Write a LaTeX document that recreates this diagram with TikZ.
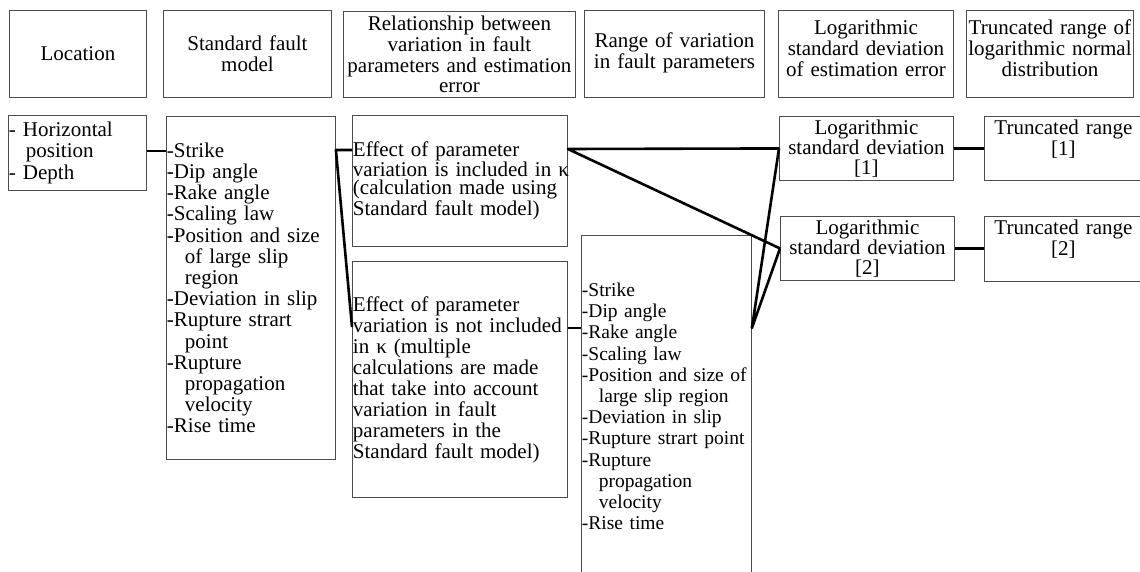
\documentclass[tikz,border=0pt]{standalone}
\usepackage{fontspec}
\setmainfont{Liberation Serif}
% invisible strut that deepens the last line, so a centred block sits higher
\newcommand\deepline[1]{\rule[-#1]{0pt}{0pt}}
\begin{document}
\begin{tikzpicture}[x=1pt,y=-1pt,
  cell/.style={draw=black!70, line width=0.9pt, rectangle, anchor=north west,
    inner xsep=0.5pt, inner ysep=0pt},
  headcell/.style={cell, align=center, font=\fontsize{21}{21}\selectfont},
  listcell/.style={cell, align=left, font=\fontsize{21}{21.2}\selectfont},
  link/.style={line width=2.6pt, line join=round},
]
\useasboundingbox (0,0) rectangle (1140,572);

% column headings
\node[headcell, minimum width=137, minimum height=87, text width=136] (hLoc) at (9,10) {Location};
\node[headcell, minimum width=168, minimum height=87, text width=167] (hSfm) at (163,10) {Standard fault\\model};
\node[headcell, font=\fontsize{21}{20.8}\selectfont, minimum width=232, minimum height=86, text width=231] (hRel) at (343,11)
  {Relationship between\\variation in fault\\parameters and estimation\\error};
\node[headcell, minimum width=180, minimum height=87, text width=179] (hRange) at (584,10) {Range of variation\\in fault parameters\deepline{6pt}};
\node[headcell, font=\fontsize{21}{21}\selectfont, minimum width=175, minimum height=87, text width=174] (hLog) at (778,10)
  {Logarithmic\\standard deviation\\of estimation error\deepline{12pt}};
\node[headcell, font=\fontsize{21}{21}\selectfont, minimum width=167, minimum height=87, text width=166] (hTrunc) at (966,10)
  {Truncated range of\\logarithmic normal\\distribution\deepline{12pt}};

% contents
\node[listcell, minimum width=138, minimum height=75, text width=137] (loc) at (8,115)
  {- Horizontal\\\hspace*{17pt}position\\- Depth};
\node[listcell, minimum width=169, minimum height=343, text width=168] (sfm) at (166,116)
  {-Strike\\-Dip angle\\-Rake angle\\-Scaling law\\-Position and size\\\hspace*{18pt}of large slip\\\hspace*{18pt}region\\-Deviation in slip\\-Rupture strart\\\hspace*{18pt}point\\-Rupture\\\hspace*{18pt}propagation\\\hspace*{18pt}velocity\\-Rise time};
\node[listcell, font=\fontsize{21}{18}\selectfont, minimum width=215, minimum height=131, text width=214] (effA) at (352,115)
  {Effect of parameter\\\mbox{variation is included in κ}\\(calculation made using\\Standard fault model)};
\node[listcell, font=\fontsize{21}{21}\selectfont, minimum width=215, minimum height=236, text width=214] (effB) at (352,261)
  {Effect of parameter\\variation is not included\\in κ (multiple\\calculations are made\\that take into account\\variation in fault\\parameters in the\\Standard fault model)};
\node[listcell, font=\fontsize{19.5}{21.2}\selectfont, minimum width=170, minimum height=342, text width=169] (range) at (581,235)
  {-Strike\\-Dip angle\\-Rake angle\\-Scaling law\\-Position and size of\\\hspace*{17pt}large slip region\\-Deviation in slip\\-Rupture strart point\\-Rupture\\\hspace*{17pt}propagation\\\hspace*{17pt}velocity\\-Rise time};
\node[headcell, font=\fontsize{21}{20}\selectfont, minimum width=174, minimum height=64, text width=173] (log1) at (779,116)
  {Logarithmic\\standard deviation\\{}[1]};
\node[headcell, font=\fontsize{21}{20}\selectfont, minimum width=174, minimum height=64, text width=173] (log2) at (780,216)
  {Logarithmic\\standard deviation\\{}[2]};
\node[headcell, minimum width=158, minimum height=64, text width=157] (trunc1) at (984,116) {Truncated range\\{}[1]\deepline{22pt}};
\node[headcell, minimum width=158, minimum height=65, text width=157] (trunc2) at (984,216) {Truncated range\\{}[2]\deepline{22pt}};

% attachment points on the box sides
\coordinate (locOut)   at (loc.east  |- 0,151);
\coordinate (sfmIn)    at (sfm.west  |- 0,151);
\coordinate (sfmOut)   at (sfm.east  |- 0,150);
\coordinate (effAIn)   at (effA.west |- 0,150);
\coordinate (effBIn)   at (effB.west |- 0,327);
\coordinate (effAOut)  at (effA.east |- 0,149);
\coordinate (effBOut)  at (effB.east |- 0,328);
\coordinate (rangeIn)  at (range.west |- 0,328);
\coordinate (rangeOut) at (range.east |- 0,328);

% connectors
\draw[link] (locOut) -- (sfmIn);
\draw[link] (effAIn) -- (sfmOut) -- (effBIn);
\draw[link] (effBOut) -- (rangeIn);
\draw[link] (log1.west) -- (effAOut) -- (log2.west);
\draw[link] (log1.west) -- (rangeOut) -- (log2.west);
\draw[link] (log1.east) -- (trunc1.west |- log1.east);
\draw[link] (log2.east) -- (trunc2.west |- log2.east);
\end{tikzpicture}
\end{document}
